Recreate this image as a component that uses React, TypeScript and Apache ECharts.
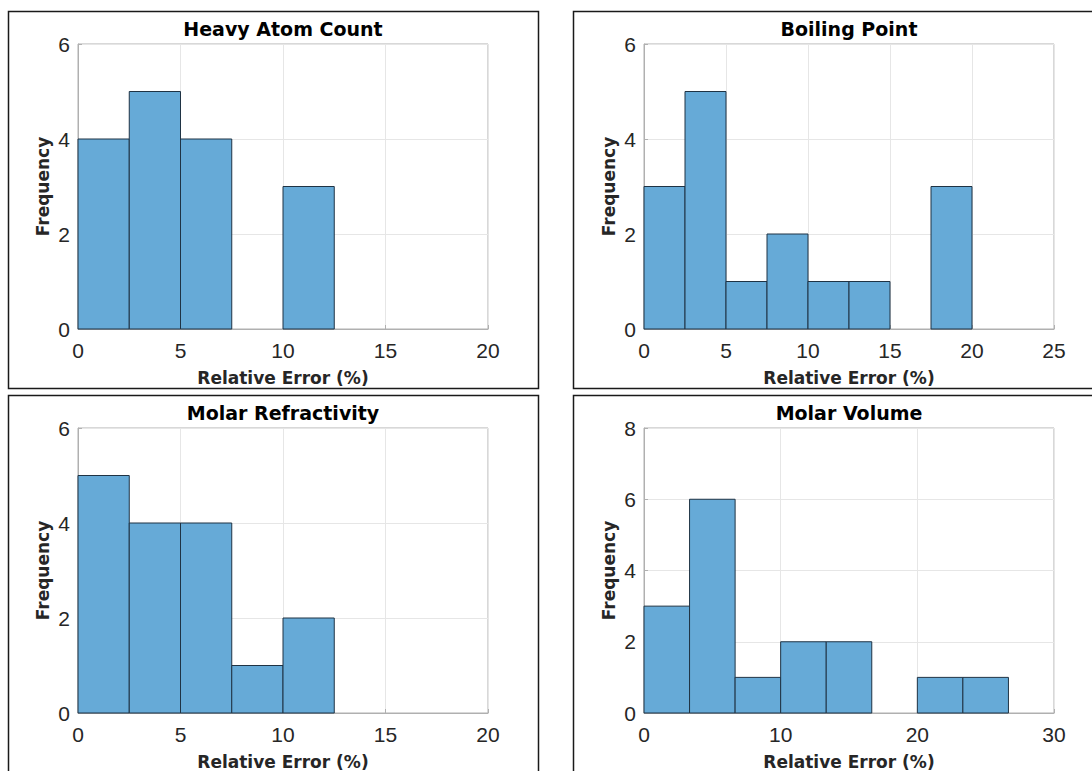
import React, { useEffect, useRef } from "react";
import * as echarts from "echarts";

// ---- data ----
const panelTitles = ["Heavy Atom Count", "Boiling Point", "Molar Refractivity", "Molar Volume"];
const heavyEdges = [0, 2.5, 5, 7.5, 10, 12.5];
const heavyCounts = [4, 5, 4, 0, 3];
const boilingEdges = [0, 2.5, 5, 7.5, 10, 12.5, 15, 17.5, 20];
const boilingCounts = [3, 5, 1, 2, 1, 1, 0, 3];
const refractEdges = [0, 2.5, 5, 7.5, 10, 12.5];
const refractCounts = [5, 4, 4, 1, 2];
const volumeEdges = [0, 10 / 3, 20 / 3, 10, 40 / 3, 50 / 3, 20, 70 / 3, 80 / 3];
const volumeCounts = [3, 6, 1, 2, 2, 0, 1, 1];
const xMax = [20, 25, 20, 30];
const xStep = [5, 5, 5, 10];
const yMax = [6, 6, 6, 8];
const yStep = [2, 2, 2, 2];
const xAxisTitle = "Relative Error (%)";
const yAxisTitle = "Frequency";

const edgesList = [heavyEdges, boilingEdges, refractEdges, volumeEdges];
const countsList = [heavyCounts, boilingCounts, refractCounts, volumeCounts];

const FONT = "DejaVu Sans";
const TICKFONT = "Liberation Sans";

export default function App() {
  const ref = useRef<HTMLDivElement>(null);
  useEffect(() => {
    if (!ref.current) return;
    const chart = echarts.init(ref.current, null, { renderer: "svg" });
    const grids = [
      { left: 78, top: 44 },
      { left: 644, top: 44 },
      { left: 78, top: 428 },
      { left: 644, top: 428 },
    ];
    const W = 410;
    const H = 285;
    const boxes = [
      { x: 8.5, y: 11.5 },
      { x: 573.5, y: 11.5 },
      { x: 8.5, y: 395.5 },
      { x: 573.5, y: 395.5 },
    ];
    const option: any = {
      animation: false,
      backgroundColor: "#ffffff",
      title: grids.map((g, i) => ({
        text: panelTitles[i],
        left: g.left + W / 2,
        top: g.top - 25,
        textAlign: "center",
        padding: 0,
        textStyle: { fontFamily: FONT, fontSize: 19, fontWeight: "bold", color: "#000" },
      })),
      grid: grids.map((g) => ({
        left: g.left,
        top: g.top,
        width: W,
        height: H,
        show: true,
        borderColor: "#b0b0b0",
        borderWidth: 1,
        backgroundColor: "#fff",
        containLabel: false,
      })),
      xAxis: grids.map((g, i) => ({
        type: "value",
        gridIndex: i,
        min: 0,
        max: xMax[i],
        interval: xStep[i],
        name: xAxisTitle,
        nameLocation: "middle",
        nameGap: 40,
        nameTextStyle: { fontFamily: FONT, fontSize: 17, fontWeight: "bold", color: "#262626" },
        axisLine: { show: true, lineStyle: { color: "#b0b0b0", width: 1 } },
        axisTick: { show: true, inside: true, length: 4, lineStyle: { color: "#b0b0b0" } },
        axisLabel: { fontFamily: TICKFONT, fontSize: 21, color: "#262626", margin: 11 },
        splitLine: { show: true, lineStyle: { color: "#e6e6e6", width: 1 } },
      })),
      yAxis: grids.map((g, i) => ({
        type: "value",
        gridIndex: i,
        min: 0,
        max: yMax[i],
        interval: yStep[i],
        name: yAxisTitle,
        nameLocation: "middle",
        nameGap: 27,
        nameRotate: 90,
        nameTextStyle: { fontFamily: FONT, fontSize: 17, fontWeight: "bold", color: "#262626" },
        axisLine: { show: true, lineStyle: { color: "#b0b0b0", width: 1 } },
        axisTick: { show: true, inside: true, length: 4, lineStyle: { color: "#b0b0b0" } },
        axisLabel: { fontFamily: TICKFONT, fontSize: 21, color: "#262626", margin: 8 },
        splitLine: { show: true, lineStyle: { color: "#e6e6e6", width: 1 } },
      })),
      series: grids.map((g, i) => ({
        type: "custom",
        xAxisIndex: i,
        yAxisIndex: i,
        data: countsList[i].map((c, k) => [edgesList[i][k], edgesList[i][k + 1], c]),
        renderItem: (params: any, api: any) => {
          const x0 = api.value(0);
          const x1 = api.value(1);
          const y = api.value(2);
          if (!y) return null;
          const p0 = api.coord([x0, y]);
          const p1 = api.coord([x1, 0]);
          return {
            type: "rect",
            shape: { x: p0[0], y: p0[1], width: p1[0] - p0[0], height: p1[1] - p0[1] },
            style: { fill: "#66aad7", stroke: "#1f3344", lineWidth: 1 },
          };
        },
        z: 3,
      })),
      graphic: boxes.map((b) => ({
        type: "rect",
        shape: { x: b.x, y: b.y, width: 530, height: 377 },
        style: { fill: "none", stroke: "#1a1a1a", lineWidth: 1.5 },
        silent: true,
        z: 100,
      })),
    };
    chart.setOption(option);
    return () => chart.dispose();
  }, []);
  return (
    <div
      ref={ref}
      style={{ position: "absolute", left: 0, top: 0, width: 1092, height: 771, background: "#fff" }}
    />
  );
}
